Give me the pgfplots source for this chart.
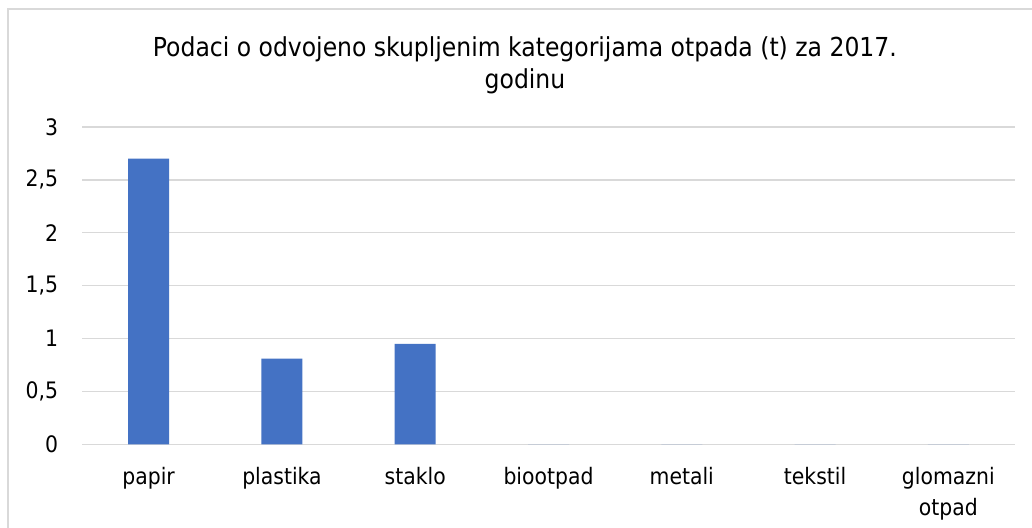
\documentclass[border=0pt]{standalone}
\usepackage{pgfplots}
\pgfplotsset{compat=1.18}
\usepackage{fontspec}
\setmainfont{DejaVu Sans Condensed}
\definecolor{barblue}{HTML}{4472C4}
\definecolor{gridgray}{HTML}{D9D9D9}
\begin{document}
\begin{tikzpicture}
\useasboundingbox (0pt,0pt) rectangle (774pt,-396pt);
\fill[white] (0pt,0pt) rectangle (774pt,-396pt);
\draw[gridgray, line width=1.5pt] (6pt,-396pt) -- (6pt,-7.1pt) -- (774pt,-7.1pt);
\node[align=center, font={\fontsize{19.6}{24}\selectfont}] at (393.75pt,-49.2pt) {Podaci o odvojeno skupljenim kategorijama otpada (t) za 2017.\\godinu};
\begin{axis}[
  at={(61.5pt,-333.2pt)}, anchor=south west,
  scale only axis, width=699.75pt, height=238pt,
  xmin=-0.5, xmax=6.5, ymin=0, ymax=3,
  ytick={0,0.5,...,3},
  xtick={0,...,6},
  xticklabels={papir,plastika,staklo,biootpad,metali,tekstil,{glomazni\\otpad}},
  /pgf/number format/use comma,
  /pgf/number format/assume math mode=true,
  axis line style={draw=none},
  major tick length=0pt,
  ymajorgrids, grid style={gridgray, line width=1.1pt},
  tick label style={font={\fontsize{17}{23}\selectfont}, inner sep=0pt},
  yticklabel style={anchor=east, xshift=-17.8pt},
  xticklabel style={anchor=north, yshift=-17pt, align=center},
  ybar, bar width=30.75pt,
  clip=false,
]
\addplot[fill=barblue, draw=none] coordinates {(0,2.70) (1,0.81) (2,0.95) (3,0) (4,0) (5,0) (6,0)};
\end{axis}
\end{tikzpicture}
\end{document}
